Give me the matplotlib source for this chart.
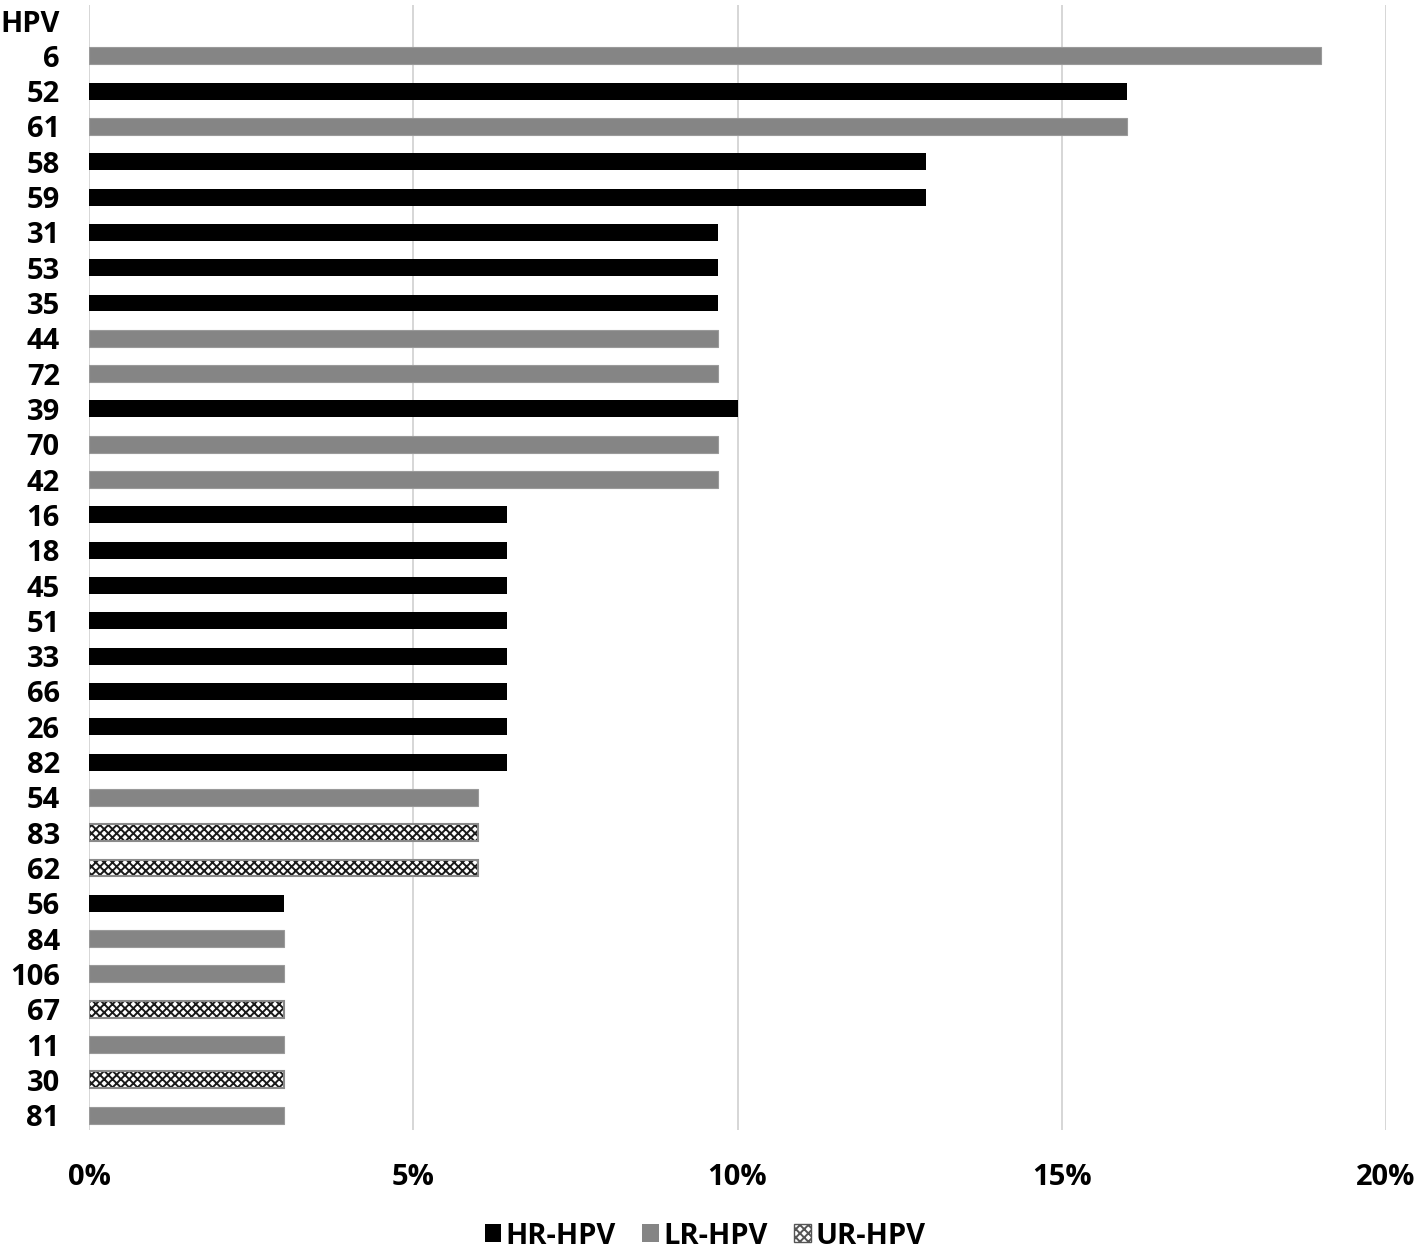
import matplotlib.pyplot as plt
from matplotlib.patches import Patch

# HPV types, prevalence (%) and risk group, top to bottom
types = ['6', '52', '61', '58', '59', '31', '53', '35', '44', '72', '39', '70', '42',
         '16', '18', '45', '51', '33', '66', '26', '82', '54', '83', '62', '56', '84',
         '106', '67', '11', '30', '81']
values = [19.0, 16.0, 16.0, 12.9, 12.9, 9.7, 9.7, 9.7, 9.7, 9.7, 10.0, 9.7, 9.7,
          6.45, 6.45, 6.45, 6.45, 6.45, 6.45, 6.45, 6.45, 6.0, 6.0, 6.0, 3.0, 3.0,
          3.0, 3.0, 3.0, 3.0, 3.0]
groups = ['LR', 'HR', 'LR', 'HR', 'HR', 'HR', 'HR', 'HR', 'LR', 'LR', 'HR', 'LR', 'LR',
          'HR', 'HR', 'HR', 'HR', 'HR', 'HR', 'HR', 'HR', 'LR', 'UR', 'UR', 'HR', 'LR',
          'LR', 'UR', 'LR', 'UR', 'LR']
xticks = [0, 5, 10, 15, 20]

plt.rcParams['font.family'] = ['Open Sans', 'DejaVu Sans']
plt.rcParams['hatch.linewidth'] = 1.4

fig = plt.figure(figsize=(14.18, 12.51), dpi=100)
ax = fig.add_axes([89 / 1418, 1 - 1130 / 1251, (1386 - 89) / 1418, (1130 - 5) / 1251])

ypos = list(range(len(types)))
for y, v, g in zip(ypos, values, groups):
    if g == 'HR':
        ax.barh(y, v, height=0.48, color='black', zorder=3)
    elif g == 'LR':
        ax.barh(y, v, height=0.48, color='#858585', edgecolor='#9a9a9a', linewidth=0.8, zorder=3)
    else:
        ax.barh(y, v, height=0.48, facecolor='white', edgecolor='#1a1a1a', hatch='xxxx',
                linewidth=0, zorder=3)
        ax.barh(y, v, height=0.48, facecolor='none', edgecolor='#8a8a8a', linewidth=1.5, zorder=4)

ax.set_xlim(0, 20)
ax.set_ylim(30.42, -1.44)
ax.set_yticks([-1] + ypos)
ax.set_yticklabels(['HPV'] + types, fontsize=21, fontweight='bold')
ax.set_xticks(xticks)
ax.set_xticklabels([f'{t}%' for t in xticks], fontsize=21, fontweight='bold')
ax.tick_params(axis='y', length=0, pad=21)
ax.tick_params(axis='x', length=0, pad=24)
ax.grid(axis='x', color='#d0d0d0', linewidth=1.2, zorder=0)
for s in ax.spines.values():
    s.set_visible(False)

handles = [Patch(facecolor='black', label='HR-HPV'),
           Patch(facecolor='#858585', label='LR-HPV'),
           Patch(facecolor='white', edgecolor='#555555', hatch='xxxx', label='UR-HPV')]
fig.legend(handles=handles, loc='center', bbox_to_anchor=(705 / 1418, 1 - 1236 / 1251),
           ncol=3, frameon=False, handlelength=0.58, handleheight=0.58, handletextpad=0.15,
           columnspacing=0.9, prop={'size': 21, 'weight': 'bold'})

fig.savefig('out.png', dpi=100)
